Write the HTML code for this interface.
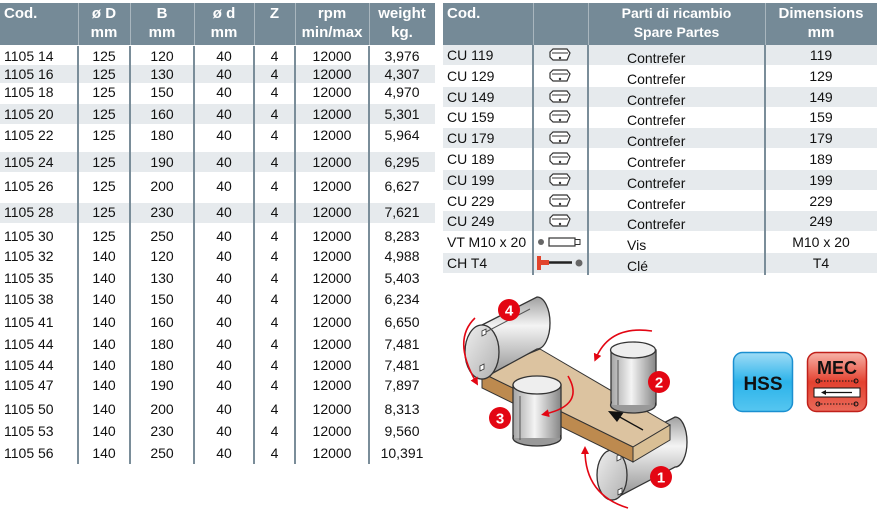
<!DOCTYPE html>
<html><head><meta charset="utf-8"><style>
body{margin:0;width:879px;height:517px;background:#fff;position:relative;overflow:hidden;font-family:"Liberation Sans",Arial,sans-serif;}
.a{position:absolute;}
.hd{background:#758a97;}
.ht{position:absolute;color:#fff;font-family:"Liberation Sans Narrow","Liberation Sans",sans-serif;font-weight:bold;font-size:15px;line-height:19px;text-align:center;}
.c{position:absolute;font-size:14px;line-height:18px;color:#111;text-align:center;font-family:"Liberation Sans Narrow","Liberation Sans",sans-serif;}
.sh{position:absolute;background:#e6eaed;}
.vl{position:absolute;width:2px;background:#7a8d99;}
</style></head><body>
<div class="a hd" style="left:0;top:3px;width:435px;height:42px"></div>
<div class="ht" style="left:4px;top:4px;text-align:left">Cod.</div>
<div class="ht" style="left:78px;top:4px;width:52px">ø D<br>mm</div>
<div class="ht" style="left:130px;top:4px;width:64px">B<br>mm</div>
<div class="ht" style="left:194px;top:4px;width:60px">ø d<br>mm</div>
<div class="ht" style="left:254px;top:4px;width:41px">Z</div>
<div class="ht" style="left:295px;top:4px;width:74px">rpm<br>min/max</div>
<div class="ht" style="left:369px;top:4px;width:66px">weight<br>kg.</div>
<div class="a" style="left:78px;top:3px;width:1px;height:42px;background:#a9b6be"></div>
<div class="a" style="left:130px;top:3px;width:1px;height:42px;background:#a9b6be"></div>
<div class="a" style="left:194px;top:3px;width:1px;height:42px;background:#a9b6be"></div>
<div class="a" style="left:254px;top:3px;width:1px;height:42px;background:#a9b6be"></div>
<div class="a" style="left:295px;top:3px;width:1px;height:42px;background:#a9b6be"></div>
<div class="a" style="left:369px;top:3px;width:1px;height:42px;background:#a9b6be"></div>
<div class="sh" style="left:0;top:65px;width:435px;height:18px"></div>
<div class="sh" style="left:0;top:104px;width:435px;height:20px"></div>
<div class="sh" style="left:0;top:152px;width:435px;height:20px"></div>
<div class="sh" style="left:0;top:203px;width:435px;height:20px"></div>
<div class="vl" style="left:77px;top:46px;height:418px"></div>
<div class="vl" style="left:129px;top:46px;height:418px"></div>
<div class="vl" style="left:193px;top:46px;height:418px"></div>
<div class="vl" style="left:253px;top:46px;height:418px"></div>
<div class="vl" style="left:294px;top:46px;height:418px"></div>
<div class="vl" style="left:368px;top:46px;height:418px"></div>
<div id="L"></div>
<div class="a hd" style="left:443px;top:3px;width:434px;height:42px"></div>
<div class="ht" style="left:447px;top:4px;text-align:left">Cod.</div>
<div class="ht" style="left:588px;top:4px;width:177px;font-size:14px">Parti di ricambio<br>Spare Partes</div>
<div class="ht" style="left:765px;top:4px;width:112px">Dimensions<br>mm</div>
<div class="a" style="left:533px;top:3px;width:1px;height:42px;background:#a9b6be"></div>
<div class="a" style="left:588px;top:3px;width:1px;height:42px;background:#a9b6be"></div>
<div class="a" style="left:765px;top:3px;width:1px;height:42px;background:#a9b6be"></div>
<div id="R"></div>
<div class="vl" style="left:532px;top:45px;height:230px"></div>
<div class="vl" style="left:587px;top:45px;height:230px"></div>
<div class="vl" style="left:764px;top:45px;height:230px"></div>
<script>
var L=[["1105 14",125,120,"3,976",56],["1105 16",125,130,"4,307",74],["1105 18",125,150,"4,970",92],["1105 20",125,160,"5,301",114],["1105 22",125,180,"5,964",135],["1105 24",125,190,"6,295",162],["1105 26",125,200,"6,627",186],["1105 28",125,230,"7,621",212],["1105 30",125,250,"8,283",236],["1105 32",140,120,"4,988",256],["1105 35",140,130,"5,403",278],["1105 38",140,150,"6,234",299],["1105 41",140,160,"6,650",322],["1105 44",140,180,"7,481",344],["1105 44",140,180,"7,481",365],["1105 47",140,190,"7,897",385],["1105 50",140,200,"8,313",409],["1105 53",140,230,"9,560",431],["1105 56",140,250,"10,391",453]];
var h="";
L.forEach(function(r){var t=r[4]-9;
h+='<div class="c" style="left:4px;top:'+t+'px;text-align:left">'+r[0]+'</div>';
h+='<div class="c" style="left:78px;top:'+t+'px;width:52px">'+r[1]+'</div>';
h+='<div class="c" style="left:130px;top:'+t+'px;width:64px">'+r[2]+'</div>';
h+='<div class="c" style="left:194px;top:'+t+'px;width:60px">40</div>';
h+='<div class="c" style="left:254px;top:'+t+'px;width:41px">4</div>';
h+='<div class="c" style="left:295px;top:'+t+'px;width:74px">12000</div>';
h+='<div class="c" style="left:369px;top:'+t+'px;width:66px">'+r[3]+'</div>';});
document.getElementById("L").outerHTML=h;
var R=[["CU 119","119"],["CU 129","129"],["CU 149","149"],["CU 159","159"],["CU 179","179"],["CU 189","189"],["CU 199","199"],["CU 229","229"],["CU 249","249"],["VT M10 x 20","M10 x 20"],["CH T4","T4"]];
var g="";
R.forEach(function(r,i){var top=45+i*20.8;var t=top+1;
if(i%2==0)g+='<div class="sh" style="left:443px;top:'+top+'px;width:434px;height:20px"></div>';
g+='<div class="c" style="left:447px;top:'+t+'px;text-align:left;font-size:14px">'+r[0]+'</div>';
var p=i<9?"Contrefer":(i==9?"Vis":"Clé");
g+='<div class="c" style="left:627px;top:'+(t+3)+'px;text-align:left;font-family:\'Liberation Sans\',sans-serif">'+p+'</div>';
g+='<div class="c" style="left:765px;top:'+t+'px;width:112px">'+r[1]+'</div>';
var cy=top+10;
if(i<9)g+='<svg class="a" style="left:548px;top:'+(cy-7)+'px" width="24" height="14"><path d="M2 4 L5 1 L19 1 L22 5 L19 12 L5 12 L2 9 Z" fill="#fff" stroke="#333" stroke-width="1.2"/><path d="M4 5 L20 5" stroke="#333"/><circle cx="12" cy="10" r="1.2" fill="#333"/></svg>';
else if(i==9)g+='<svg class="a" style="left:536px;top:'+(cy-6)+'px" width="50" height="12"><circle cx="5" cy="6" r="3" fill="#666"/><rect x="13" y="2" width="26" height="8" fill="#fff" stroke="#333" stroke-width="1.2"/><rect x="39" y="3.5" width="5" height="5" fill="#fff" stroke="#333"/></svg>';
else g+='<svg class="a" style="left:534px;top:'+(cy-8)+'px" width="52" height="16"><rect x="3" y="1" width="4" height="14" fill="#e2442c"/><rect x="3" y="5" width="12" height="5" fill="#e2442c"/><path d="M15 7.5 H38" stroke="#222" stroke-width="2.5"/><circle cx="45" cy="8" r="3.5" fill="#666"/></svg>';
});
document.getElementById("R").outerHTML=g;
</script>
<svg class="a" style="left:0;top:0" width="879" height="517">
<defs>
<linearGradient id="cylH" x1="0" y1="0" x2="0" y2="1"><stop offset="0" stop-color="#a0a0a0"/><stop offset=".35" stop-color="#f4f4f4"/><stop offset="1" stop-color="#8c8c8c"/></linearGradient>
<linearGradient id="cylV" x1="0" y1="0" x2="1" y2="0"><stop offset="0" stop-color="#a8a8a8"/><stop offset=".45" stop-color="#f4f4f4"/><stop offset="1" stop-color="#8a8a8a"/></linearGradient>
<linearGradient id="endE" x1="0" y1="0" x2="1" y2="1"><stop offset="0" stop-color="#eee"/><stop offset="1" stop-color="#b0b0b0"/></linearGradient>
<marker id="ar" viewBox="0 0 10 10" refX="5" refY="5" markerWidth="5" markerHeight="5" orient="auto"><path d="M0 0 L10 5 L0 10Z" fill="#e30613"/></marker>
</defs>
<!-- roller 1 -->
<path d="M612 450 L675 417 A12 25 0 0 1 675 467 L612 500 Z" fill="url(#cylH)" stroke="#333" stroke-width="1.3"/>
<ellipse cx="612" cy="475" rx="15" ry="25" fill="url(#endE)" stroke="#333" stroke-width="1.3"/>
<path d="M617 456 l4 -2 l0 5 l-4 2z M618 490 l4 -2 l0 5 l-4 2z" fill="#fff" stroke="#333" stroke-width=".8"/>
<!-- board -->
<polygon points="482,373 540,349 670,425 633,447" fill="#dcc3a0" stroke="#333" stroke-width="1"/>
<polygon points="482,373 633,447 633,462 482,388" fill="#bd8a4f" stroke="#333" stroke-width="1"/>
<polygon points="633,447 670,425 670,440 633,462" fill="#d9bf95" stroke="#333" stroke-width="1"/>
<path d="M643 430 L618 416" stroke="#111" stroke-width="1.3"/>
<path d="M608 411 L624 412 L617 422Z" fill="#111"/>
<!-- roller 4 -->
<path d="M482 325 L537 297 A13 26 0 0 1 537 349 L482 379 Z" fill="url(#cylH)" stroke="#333" stroke-width="1.3"/>
<ellipse cx="482" cy="352" rx="17" ry="27" fill="url(#endE)" stroke="#333" stroke-width="1.3"/>
<path d="M484 333 L530 309" stroke="#555"/>
<path d="M482 331 l4 -2 l0 5 l-4 2z M480 366 l4 -2 l0 5 l-4 2z" fill="#fff" stroke="#333" stroke-width=".8"/>
<!-- roller 2 -->
<rect x="611" y="350" width="45" height="55" fill="url(#cylV)" stroke="#333" stroke-width="1.3"/>
<ellipse cx="633" cy="405" rx="22.5" ry="8" fill="#999" stroke="#333" stroke-width="1.3"/>
<rect x="612" y="350" width="43" height="55" fill="url(#cylV)"/>
<ellipse cx="633" cy="350" rx="22.5" ry="8" fill="#eee" stroke="#333" stroke-width="1.3"/>
<path d="M618 360 V405" stroke="#555"/>
<!-- roller 3 -->
<rect x="513" y="385" width="48" height="53" fill="url(#cylV)" stroke="#333" stroke-width="1.3"/>
<ellipse cx="537" cy="438" rx="24" ry="8" fill="#999" stroke="#333" stroke-width="1.3"/>
<rect x="514" y="385" width="46" height="53" fill="url(#cylV)"/>
<ellipse cx="537" cy="385" rx="24" ry="9" fill="#eee" stroke="#333" stroke-width="1.3"/>
<path d="M520 396 V440" stroke="#555"/>
<g fill="none" stroke="#e30613" stroke-width="1.6">
<path d="M475 318 Q452 340 476 382" marker-end="url(#ar)"/>
<path d="M652 331 Q610 325 596 358" marker-end="url(#ar)"/>
<path d="M568 376 Q585 405 545 414" marker-end="url(#ar)"/>
<path d="M628 508 Q585 495 585 450" marker-end="url(#ar)"/>
</g>
<g font-family="Liberation Sans,sans-serif" font-weight="bold" font-size="15" fill="#fff" text-anchor="middle">
<circle cx="509" cy="310" r="11" fill="#e30613"/><text x="509" y="315.5">4</text>
<circle cx="659" cy="382" r="11" fill="#e30613"/><text x="659" y="387.5">2</text>
<circle cx="500" cy="418" r="11" fill="#e30613"/><text x="500" y="423.5">3</text>
<circle cx="661" cy="477" r="11" fill="#e30613"/><text x="661" y="482.5">1</text>
</g>
<defs>
<linearGradient id="hss" x1="0" y1="0" x2="0" y2="1"><stop offset="0" stop-color="#9fdcf6"/><stop offset=".5" stop-color="#2bb3ea"/><stop offset="1" stop-color="#56c6f0"/></linearGradient>
<linearGradient id="mec" x1="0" y1="0" x2="0" y2="1"><stop offset="0" stop-color="#f7b3a8"/><stop offset=".5" stop-color="#e4412f"/><stop offset="1" stop-color="#ea6a5a"/></linearGradient>
</defs>
<rect x="733.5" y="352.5" width="59" height="59" rx="9" fill="url(#hss)" stroke="#1a8fd0" stroke-width="1.5"/>
<text x="763" y="390" font-family="Liberation Sans,sans-serif" font-weight="bold" font-size="19" text-anchor="middle" fill="#111">HSS</text>
<rect x="807.5" y="352.5" width="59" height="59" rx="9" fill="url(#mec)" stroke="#c0201a" stroke-width="1.5"/>
<text x="837" y="374" font-family="Liberation Sans,sans-serif" font-weight="bold" font-size="18" text-anchor="middle" fill="#111">MEC</text>
<rect x="814" y="388" width="46" height="9" fill="#fff" stroke="#111"/>
<path d="M852 392.5 H824" stroke="#111" stroke-width="1.2"/><path d="M821 392.5 L826 390 L826 395Z" fill="#111"/>
<path d="M818 381 H856 M818 404 H856" stroke="#111" stroke-dasharray="1.5,1.5"/>
<g fill="none" stroke="#111"><circle cx="818" cy="381" r="2"/><circle cx="856" cy="381" r="2"/><circle cx="818" cy="404" r="2"/><circle cx="856" cy="404" r="2"/></g>
</svg>
</body></html>
